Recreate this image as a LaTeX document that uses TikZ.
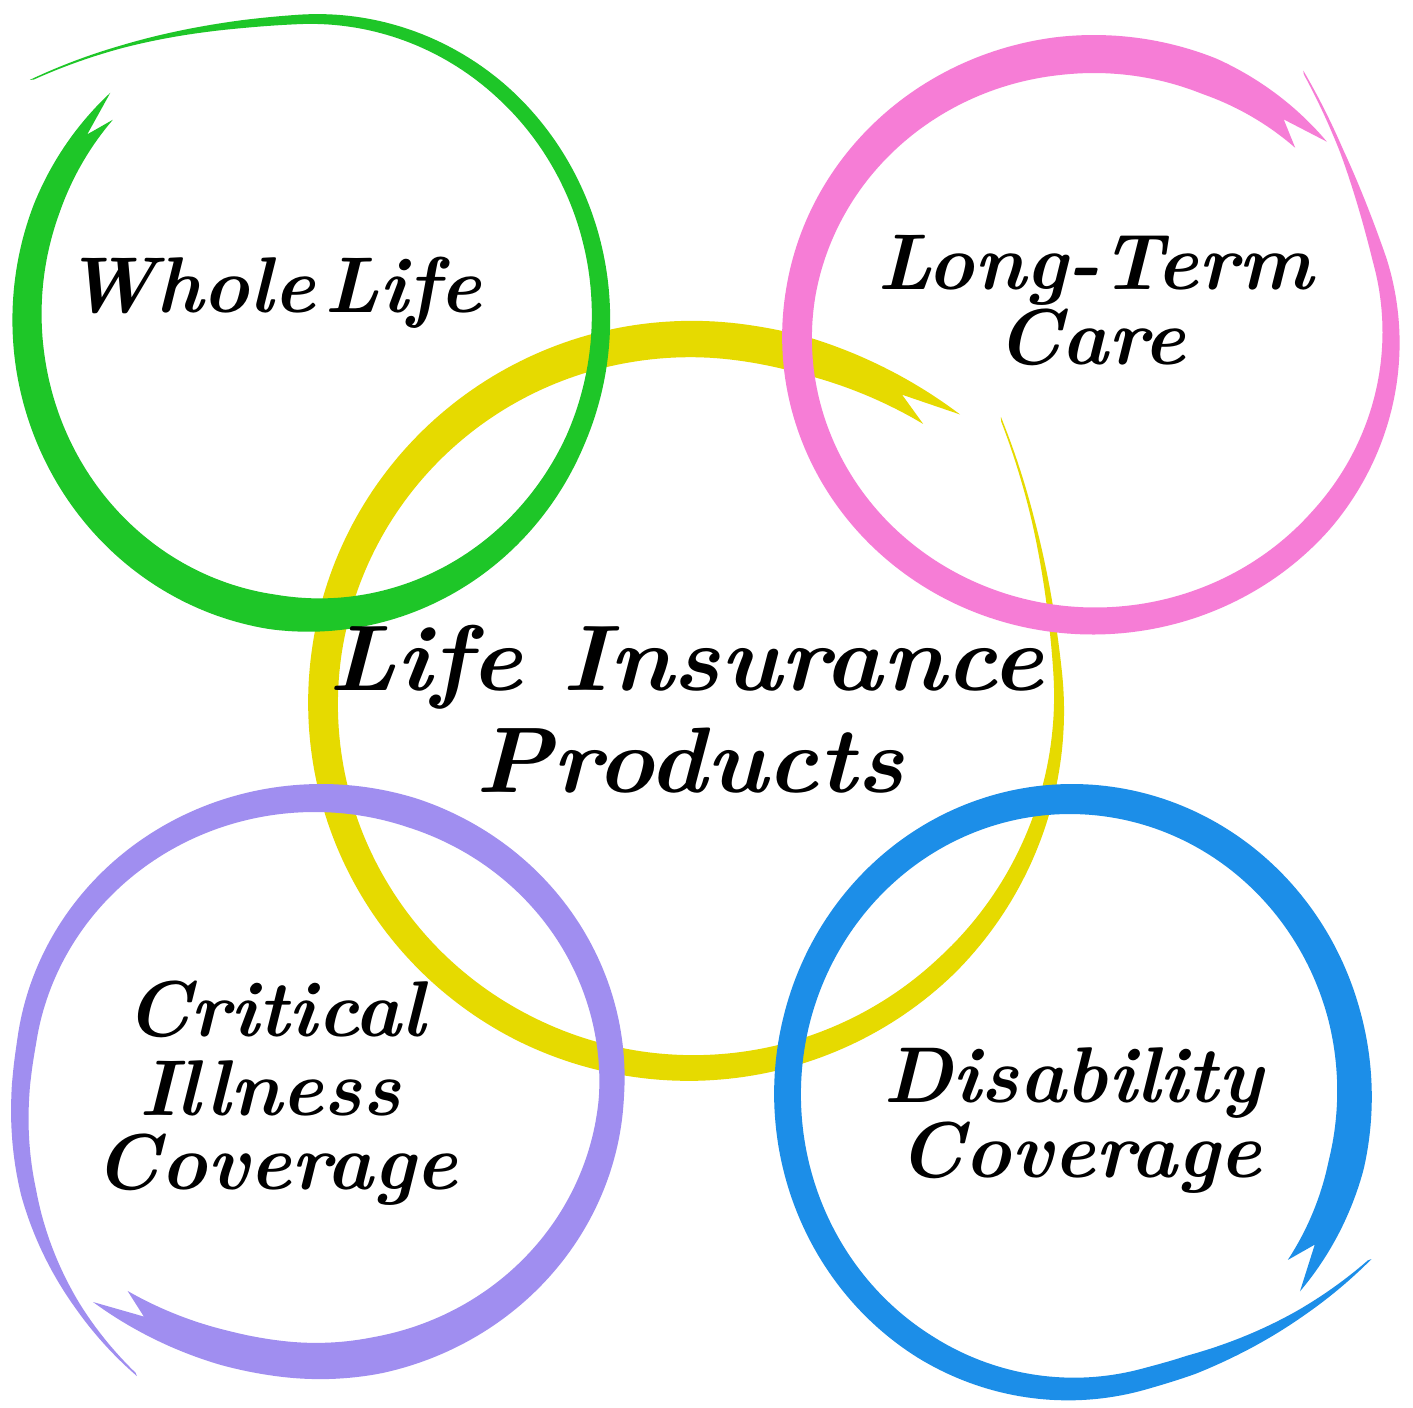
\documentclass[tikz,border=0pt]{standalone}
\definecolor{cgreen}{RGB}{30,198,40}
\definecolor{cpink}{RGB}{246,125,214}
\definecolor{cyellow}{RGB}{230,218,0}
\definecolor{cpurple}{RGB}{160,142,240}
\definecolor{cblue}{RGB}{28,142,232}
% geometry: cx cy rx ry a0 a1 D st
\newcommand\brushgeo[8]{\def\bcx{#1}\def\bcy{#2}\def\brx{#3}\def\bry{#4}\def\baA{#5}\def\baB{#6}\def\bD{#7}\def\bst{#8}}
% tail exponent, end drift
\newcommand\brushmore[2]{\def\bp{#1}\def\bE{#2}}
% widths at s = 0, .04, .1, .25, .45, .65, .85, .93, 1
\newcommand\brushw[9]{\def\bwa{#1}\def\bwb{#2}\def\bwc{#3}\def\bwd{#4}\def\bwe{#5}\def\bwf{#6}\def\bwg{#7}\def\bwh{#8}\def\bwi{#9}}
\newcommand\drawbrush[1]{%
  \fill[#1]
    plot[variable=\s,domain=0:1,samples=300] ({bxo(\s)},{byo(\s)})
    -- ({bxm(0.975)},{bym(0.975)})
    -- plot[variable=\s,domain=0.99:0,samples=300] ({bxi(\s)},{byi(\s)})
    -- cycle;}
\begin{document}
\begin{tikzpicture}[x=0.02cm,y=-0.02cm,
  declare function={
    bang(\s)=\baA+(\baB-\baA)*\s;
    bdr(\s)=\bD*max(0.0001,1-\s/\bst)^\bp+\bE*max(0,(\s-0.9)/0.1)^2;
    bwd(\s)=(\s<0.04)?(\bwa+(\bwb-\bwa)*\s/0.04):((\s<0.1)?(\bwb+(\bwc-\bwb)*(\s-0.04)/0.06):((\s<0.25)?(\bwc+(\bwd-\bwc)*(\s-0.1)/0.15):((\s<0.45)?(\bwd+(\bwe-\bwd)*(\s-0.25)/0.2):((\s<0.65)?(\bwe+(\bwf-\bwe)*(\s-0.45)/0.2):((\s<0.85)?(\bwf+(\bwg-\bwf)*(\s-0.65)/0.2):((\s<0.93)?(\bwg+(\bwh-\bwg)*(\s-0.85)/0.08):(\bwh+(\bwi-\bwh)*(\s-0.93)/0.07)))))));
    bxo(\s)=\bcx+(\brx+bdr(\s)+0.5*bwd(\s))*cos(bang(\s));
    byo(\s)=\bcy+(\bry+bdr(\s)+0.5*bwd(\s))*sin(bang(\s));
    bxi(\s)=\bcx+(\brx+bdr(\s)-0.5*bwd(\s))*cos(bang(\s));
    byi(\s)=\bcy+(\bry+bdr(\s)-0.5*bwd(\s))*sin(bang(\s));
    bxm(\s)=\bcx+(\brx+bdr(\s))*cos(bang(\s));
    bym(\s)=\bcy+(\bry+bdr(\s))*sin(bang(\s));
  },
  txt/.style={font=\fontsize{45}{48}\selectfont\bfseries\itshape,anchor=base,inner sep=0pt,text=black},
  txtbig/.style={txt,font=\fontsize{53}{56}\selectfont\bfseries\itshape,xscale=1.05,transform shape}]
\fill[white] (0,0) rectangle (1413,1407);
\useasboundingbox (0,0) rectangle (1413,1407);
% yellow (central) first
\brushgeo{691}{703.5}{368}{364.5}{-43}{313}{55}{0.107}\brushmore{2}{15}
\brushw{1.5}{3}{8}{22}{28}{30}{36}{37}{28}
\drawbrush{cyellow}
% green
\brushgeo{314}{317}{287}{298}{-141}{227}{78}{0.13}\brushmore{2}{0}
\brushw{1.5}{3}{8}{15}{20}{35}{30}{27}{20}
\drawbrush{cgreen}
% pink
\brushgeo{1094}{337.5}{297}{283.5}{-53}{319}{50}{0.10}\brushmore{2}{0}
\brushw{1.5}{4}{14}{25}{28}{30}{38}{38}{26}
\drawbrush{cpink}
% purple
\brushgeo{318}{1079.5}{294}{281.5}{-239.5}{134.5}{62}{0.18}\brushmore{1.5}{15}
\brushw{1.5}{6}{16}{22}{30}{25}{37}{35}{28}
\drawbrush{cpurple}
% blue
\brushgeo{1071}{1094}{283.5}{295}{28}{400}{56}{0.126}\brushmore{1.8}{0}
\brushw{1.5}{8}{20}{26}{27}{30}{33}{36}{28}
\drawbrush{cblue}
% texts
\node[txt] (wl) at (273,312) {Whole\hspace{0.12em}Life};
\node[txt] (lt1) at (1095,289) {Long-Term};
\node[txt] (lt2) at (1091,364) {Care};
\node[txtbig] (li1) at (686,690) {Life Insurance};
\node[txtbig] (li2) at (690,792) {Products};
\node[txt] (ci1) at (275,1036) {Critical};
\node[txt] (ci2) at (270,1115) {Illness};
\node[txt] (ci3) at (276,1189) {Coverage};
\node[txt] (dc1) at (1073,1102) {Disability};
\node[txt] (dc2) at (1080,1177) {Coverage};
\end{tikzpicture}
\end{document}
